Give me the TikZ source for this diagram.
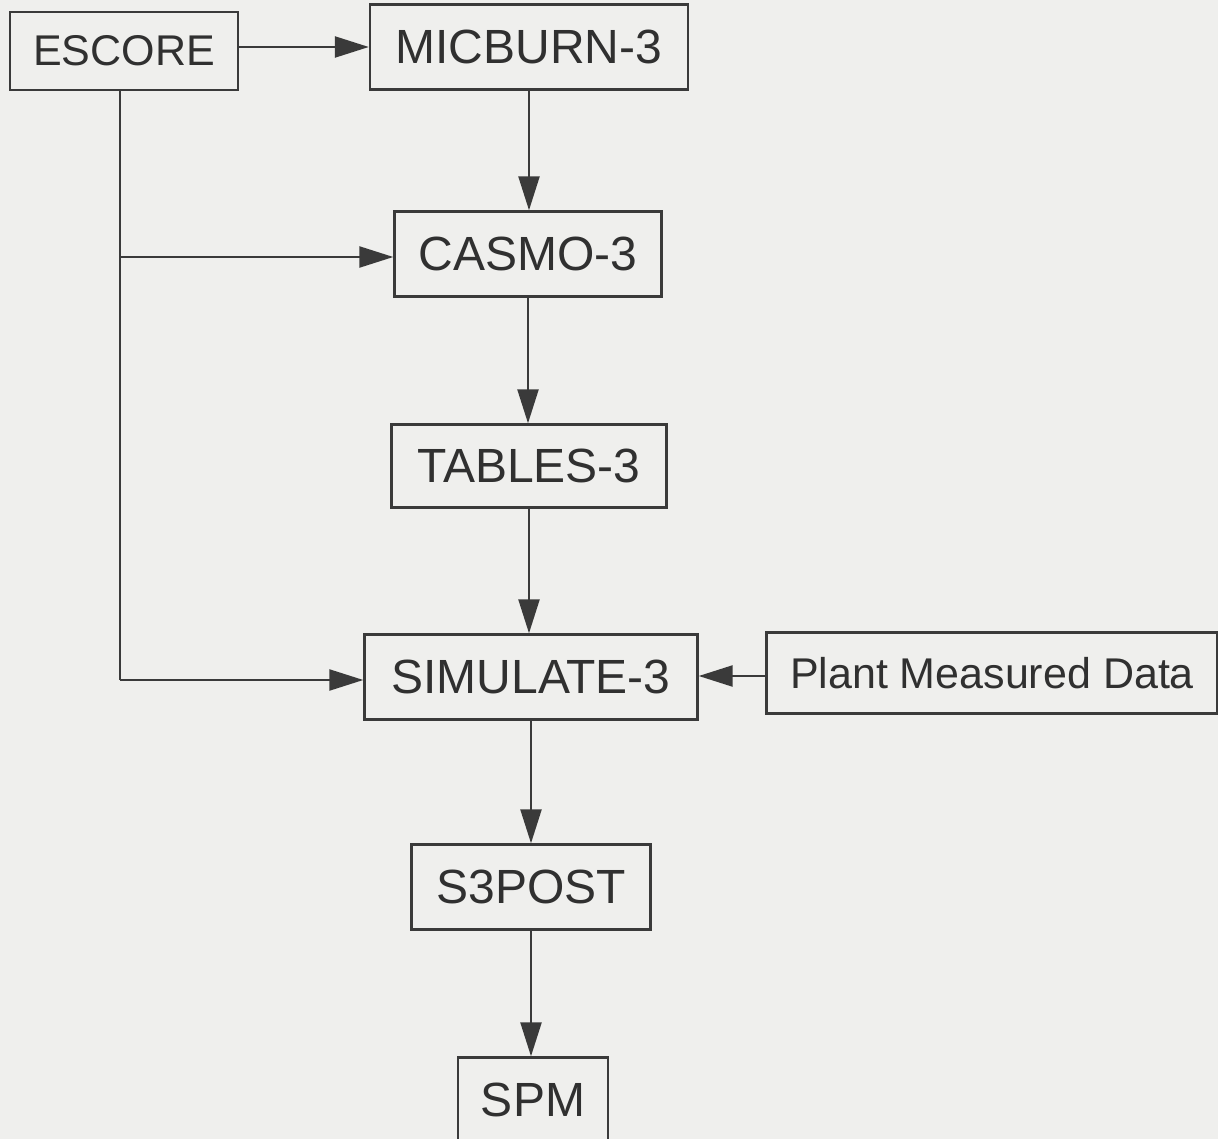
\documentclass[tikz,border=0pt]{standalone}
\usepackage{fontspec}
\setmainfont{Liberation Sans}
\usetikzlibrary{arrows.meta}
\definecolor{bgc}{HTML}{EFEFED}
\definecolor{inkc}{HTML}{3A3A3A}
\definecolor{txtc}{HTML}{303030}
\begin{document}
\begin{tikzpicture}[x=1pt,y=-1pt,
  box/.style={draw=inkc, line width=2.4pt, rectangle, inner sep=0pt, text=txtc, font=\fontsize{48}{52}\selectfont},
  smallbox/.style={box, font=\fontsize{43}{48}\selectfont},
  link/.style={draw=inkc, line width=2.4pt},
  arr/.style={link, -{Triangle[length=34pt,width=21pt]}}
]
\fill[bgc] (0,0) rectangle (1218,1139);
\useasboundingbox (0,0) rectangle (1218,1139);

\node[smallbox, minimum width=228pt, minimum height=78pt] (escore) at (124,51) {ESCORE};
\node[box, minimum width=318pt, minimum height=85pt] (micburn) at (529,47) {MICBURN-3};
\node[box, minimum width=267pt, minimum height=85pt] (casmo) at (528,254) {CASMO-3};
\node[box, minimum width=275pt, minimum height=83pt] (tables) at (529,466) {TABLES-3};
\node[box, minimum width=333pt, minimum height=85pt] (simulate) at (531,677) {SIMULATE-3};
\node[smallbox, minimum width=451pt, minimum height=81pt] (plant) at (992,673) {Plant Measured Data};
\node[box, minimum width=239pt, minimum height=85pt] (s3post) at (531,887) {S3POST};
\node[box, minimum width=150pt, minimum height=85pt] (spm) at (533,1100) {SPM};

\coordinate (trunk) at ([xshift=-4pt]escore.south);
\draw[arr] (escore.east |- 0,47) -- (micburn.west |- 0,47);
\draw[link] (trunk) -- (trunk |- 0,680);
\draw[arr] (trunk |- 0,257) -- (casmo.west |- 0,257);
\draw[arr] (trunk |- 0,680) -- (simulate.west |- 0,680);
\draw[arr] (micburn.south) -- (micburn.south |- casmo.north);
\draw[arr] (casmo.south) -- (casmo.south |- tables.north);
\draw[arr] (tables.south) -- (tables.south |- simulate.north);
\draw[arr] (plant.west |- 0,676) -- (simulate.east |- 0,676);
\draw[arr] (simulate.south) -- (simulate.south |- s3post.north);
\draw[arr] (s3post.south) -- (s3post.south |- spm.north);
\end{tikzpicture}
\end{document}
